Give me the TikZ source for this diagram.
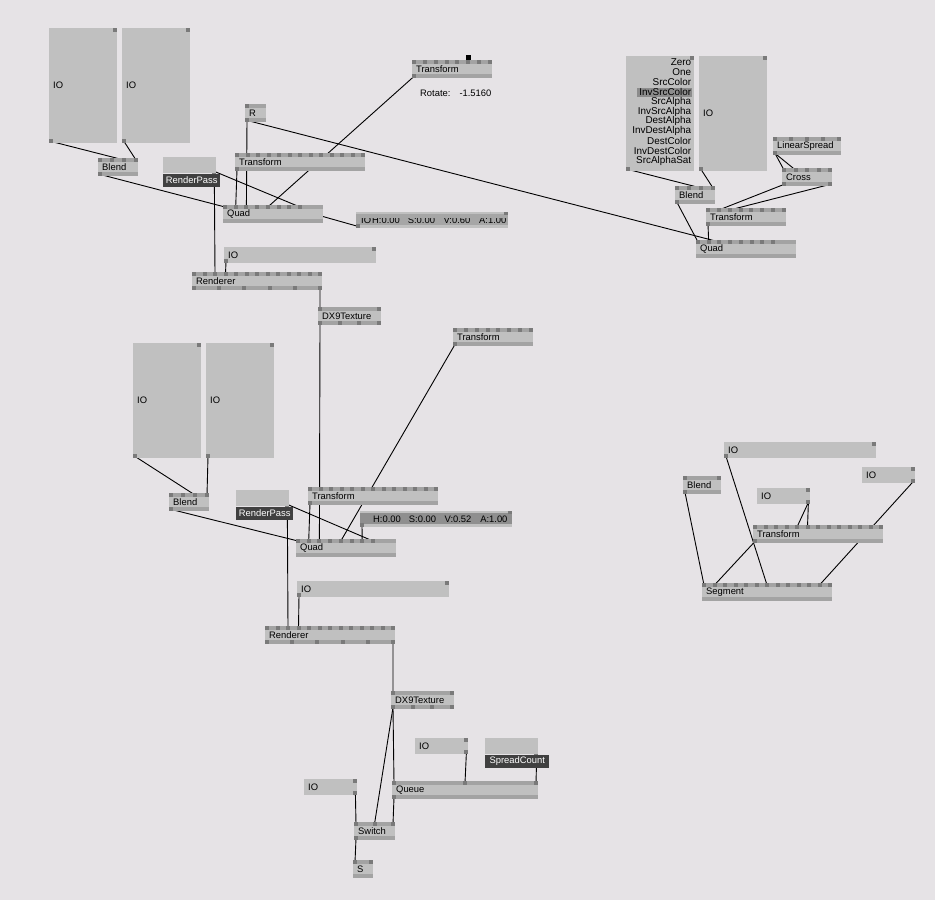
\documentclass[tikz,border=0pt]{standalone}
\usepackage{fontspec}
\setmainfont{Liberation Sans}
\definecolor{patchbg}{HTML}{E6E3E6}
\definecolor{nodebody}{HTML}{C0C0C0}
\definecolor{nodestrip}{HTML}{A3A3A3}
\definecolor{nodepin}{HTML}{7A7A7A}
\definecolor{tagdark}{HTML}{404040}
\definecolor{valband}{HTML}{8F8F8F}
\definecolor{valbandlight}{HTML}{A6A6A6}
\definecolor{enumsel}{HTML}{8C8C8C}
\pgfdeclarelayer{background}
\pgfsetlayers{background,main}
\tikzset{
  patchfont/.style={font=\fontsize{9.4}{11}\selectfont},
  vnode/.style={patchfont,fill=nodebody,anchor=north west,inner xsep=4pt,inner ysep=0pt,minimum height=18pt,align=left},
  iobox/.style={patchfont,fill=nodebody,anchor=north west,inner xsep=4pt,inner ysep=0pt,align=left},
  vstrip/.style={fill=nodestrip},
  vpin/.style={fill=nodepin},
  vtag/.style={patchfont,fill=tagdark,text=white,anchor=north west,inner sep=0pt,minimum height=13pt},
  vtext/.style={patchfont,inner sep=0pt},
  link/.style={draw=black,line width=0.9pt}
}
% name, x, y, width, label, inputs, input spacing, outputs, output spacing
\newcommand{\vnode}[9]{\pgfmathsetmacro{\vtw}{#4-8}\node[vnode,text width=\vtw pt] (#1) at (#2,#3) {#5};
  \fill[vstrip] (#1.north west) rectangle ([yshift=-4pt]#1.north east); \fill[vstrip] (#1.south west) rectangle ([yshift=4pt]#1.south east);
  \ifnum#6>0 \foreach \i in {1,...,#6}{\fill[vpin] ([xshift={(\i-1)*#7}]#1.north west) rectangle ++(4,4); \coordinate (#1-i\i) at ([xshift={(\i-1)*#7+2},yshift=-2pt]#1.north west);}\fi
  \ifnum#8>0 \foreach \i in {1,...,#8}{\fill[vpin] ([xshift={(\i-1)*#9}]#1.south west) rectangle ++(4,-4); \coordinate (#1-o\i) at ([xshift={(\i-1)*#9+2},yshift=2pt]#1.south west);}\fi}
% name, x, y, width, height, label, output side (l/r)
\newcommand{\iobox}[7]{\pgfmathsetmacro{\vtw}{#4-8}\node[iobox,text width=\vtw pt,minimum height=#5pt] (#1) at (#2,#3) {#6};
  \fill[vpin] ([xshift=-4pt]#1.north east) rectangle ++(4,4);
  \if#7l\fill[vpin] (#1.south west) rectangle ++(4,-4); \coordinate (#1-o) at ([xshift=2pt,yshift=2pt]#1.south west);
  \else\fill[vpin] ([xshift=-4pt]#1.south east) rectangle ++(4,-4); \coordinate (#1-o) at ([xshift=-2pt,yshift=2pt]#1.south east);\fi}
% name, x, y, width, label, label width
\newcommand{\ionamed}[6]{\node[iobox,minimum width=#4pt,minimum height=16pt] (#1) at (#2,#3) {};
  \fill[vpin] ([xshift=-4pt]#1.south east) rectangle ++(4,4);
  \node[vtag,minimum width=#6pt] (#1-tag) at (#1.south west) {#5};
  \coordinate (#1-o) at ([xshift=-2pt,yshift=2pt]#1.south east); \coordinate (#1-t) at ([xshift=-2pt]#1.south east |- #1-tag.south);}
% name, x, y, width, band colour, value text
\newcommand{\colourbox}[6]{\node[iobox,minimum width=#4pt,minimum height=16pt] (#1) at (#2,#3) {};
  \fill[#5] ([yshift=-2pt]#1.north west) rectangle ([yshift=3pt]#1.south east);
  \fill[vpin] ([xshift=-4pt]#1.north east) rectangle ++(4,3); \fill[vpin] (#1.south west) rectangle ++(4,-4);
  \coordinate (#1-o) at ([xshift=2pt,yshift=2pt]#1.south west);
  \node[vtext,anchor=west] (#1-val) at ([xshift=13pt]#1.west) {#6};}
\newcommand{\hsv}[4]{\makebox[35.7pt][l]{H:#1}\makebox[35.7pt][l]{S:#2}\makebox[35.7pt][l]{V:#3}A:#4}

\begin{document}
\begin{tikzpicture}[x=1pt,y=-1pt]
\useasboundingbox (0,0) rectangle (935,900);
\begin{pgfonlayer}{background}\fill[patchbg] (0,0) rectangle (935,900);\end{pgfonlayer}
% first layer
\iobox{ioA}{49}{28}{68}{115}{IO}{l} \iobox{ioB}{122}{28}{68}{115}{IO}{l}
\vnode{blendA}{98}{158}{40}{Blend}{4}{12}{1}{0}
\ionamed{passA}{163}{157}{53}{RenderPass}{57}
\vnode{rA}{245}{104}{21}{R}{1}{0}{1}{0}
\vnode{transformA}{235}{153}{130}{Transform}{13}{10.5}{1}{0}
\vnode{quadA}{223}{205}{100}{Quad}{8}{10.7}{0}{0}
\colourbox{hsvA}{356}{212}{152}{valbandlight}{}
\begin{scope}\clip (356,218.5) rectangle (508,225);
\node[vtext,anchor=base west] (hsvA-text) at (361,223.5) {IO\hspace{1pt}\hsv{0.00}{0.00}{0.60}{1.00}};
\end{scope}
\iobox{ioC}{224}{247}{152}{16}{IO}{l}
\vnode{rendererA}{192}{272}{130}{Renderer}{13}{10.5}{6}{25.2}
\vnode{texA}{318}{307}{63}{DX9Texture}{2}{59}{4}{19.67}
\vnode{transformB}{412}{60}{80}{Transform}{8}{10.86}{1}{0}
\fill[black] ([xshift=54pt]transformB.north west) rectangle ++(5,-5);
\node[vtext,anchor=west] (rotA) at (420,93) {Rotate:\hspace{9pt}-1.5160};
% blend state layer
\node[iobox,minimum width=68pt,minimum height=115pt] (enumA) at (626,56) {};
\fill[enumsel] ([xshift=-57pt,yshift=-32pt]enumA.north east) rectangle ([xshift=-2pt,yshift=-41pt]enumA.north east);
\foreach \t [count=\k] in {Zero,One,SrcColor,InvSrcColor,SrcAlpha,InvSrcAlpha,DestAlpha,InvDestAlpha,DestColor,InvDestColor,SrcAlphaSat}
  \node[vtext,anchor=east,font=\fontsize{9.9}{11}\selectfont] (enumA-\k) at ([xshift=-3pt,yshift={-(6+(\k-1)*9.9)}]enumA.north east) {\t};
\fill[vpin] ([xshift=-4pt]enumA.north east) rectangle ++(4,4); \fill[vpin] (enumA.south west) rectangle ++(4,-4);
\coordinate (enumA-o) at ([xshift=2pt,yshift=2pt]enumA.south west);
\iobox{ioD}{699}{56}{68}{115}{IO}{l}
\vnode{spreadA}{773}{137}{68}{LinearSpread}{5}{16}{1}{0}
\vnode{crossA}{782}{168}{50}{Cross}{5}{11.5}{2}{46}
\vnode{blendB}{675}{186}{40}{Blend}{4}{12}{1}{0}
\vnode{transformC}{706}{208}{80}{Transform}{8}{10.86}{1}{0}
\vnode{quadB}{696}{240}{100}{Quad}{8}{10.7}{0}{0}
% second layer
\iobox{ioE}{133}{343}{68}{115}{IO}{l} \iobox{ioF}{206}{343}{68}{115}{IO}{l}
\vnode{blendC}{169}{493}{40}{Blend}{4}{12}{1}{0}
\ionamed{passB}{236}{490}{53}{RenderPass}{57}
\vnode{transformD}{308}{487}{130}{Transform}{13}{10.5}{1}{0}
\colourbox{hsvB}{360}{511}{152}{valband}{\hsv{0.00}{0.00}{0.52}{1.00}}
\vnode{quadC}{296}{539}{100}{Quad}{8}{10.7}{0}{0}
\iobox{ioG}{297}{581}{152}{16}{IO}{l}
\vnode{rendererB}{265}{626}{130}{Renderer}{13}{10.5}{6}{25.2}
\vnode{transformE}{453}{328}{80}{Transform}{8}{10.86}{1}{0}
\vnode{texB}{391}{691}{63}{DX9Texture}{2}{59}{4}{19.67}
\iobox{ioH}{415}{738}{53}{16}{IO}{r}
\ionamed{countA}{485}{738}{53}{SpreadCount}{64}
\vnode{queueA}{392}{781}{146}{Queue}{3}{71}{1}{0}
\iobox{ioI}{304}{779}{53}{16}{IO}{r}
\vnode{switchA}{354}{822}{41}{Switch}{3}{18.5}{1}{0}
\vnode{sA}{353}{860}{20}{S}{2}{16}{0}{0}
% segment
\iobox{ioJ}{724}{442}{152}{16}{IO}{l}
\vnode{blendD}{683}{476}{38}{Blend}{2}{34}{1}{0}
\iobox{ioK}{862}{467}{53}{16}{IO}{r}
\iobox{ioL}{757}{488}{53}{16}{IO}{r}
\vnode{transformF}{753}{525}{130}{Transform}{13}{10.5}{1}{0}
\vnode{segmentA}{702}{583}{130}{Segment}{13}{10.5}{0}{0}
\begin{pgfonlayer}{background}
\draw[link] (ioA-o) -- (blendA-i3); \draw[link] (ioB-o) -- (blendA-i4); \draw[link] (blendA-o1) -- (quadA-i1);
\draw[link] (passA-o) -- (quadA-i8); \draw[link] (passA-t) -- (rendererA-i3);
\draw[link] (rA-o1) -- (quadA-i3); \draw[link] (rA-o1) -- (quadB-i3);
\draw[link] (transformB-o1) -- (quadA-i5); \draw[link] (transformA-o1) -- (quadA-i2); \draw[link] (hsvA-o) -- (quadA-i7);
\draw[link] (ioC-o) -- (rendererA-i4); \draw[link] (rendererA-o6) -- (texA-i1); \draw[link] (texA-o1) -- (quadC-i3);
\draw[link] (enumA-o) -- (blendB-i3); \draw[link] (ioD-o) -- (blendB-i4); \draw[link] (blendB-o1) -- (quadB-i1);
\draw[link] (transformC-o1) -- (quadB-i2); \draw[link] (spreadA-o1) -- (crossA-i1); \draw[link] (spreadA-o1) -- (crossA-i2);
\draw[link] (crossA-o1) -- (transformC-i2); \draw[link] (crossA-o2) -- (transformC-i3);
\draw[link] (ioE-o) -- (blendC-i3); \draw[link] (ioF-o) -- (blendC-i4); \draw[link] (blendC-o1) -- (quadC-i1);
\draw[link] (passB-o) -- (quadC-i8); \draw[link] (passB-t) -- (rendererB-i3);
\draw[link] (transformD-o1) -- (quadC-i2); \draw[link] (transformE-o1) -- (quadC-i5); \draw[link] (hsvB-o) -- (quadC-i7);
\draw[link] (ioG-o) -- (rendererB-i4); \draw[link] (rendererB-o6) -- (texB-i1);
\draw[link] (texB-o1) -- (queueA-i1); \draw[link] (texB-o1) -- (switchA-i2); \draw[link] (ioH-o) -- (queueA-i2);
\draw[link] (countA-t) -- (queueA-i3); \draw[link] (queueA-o1) -- (switchA-i3); \draw[link] (ioI-o) -- (switchA-i1);
\draw[link] (switchA-o1) -- (sA-i1);
\draw[link] (ioJ-o) -- (segmentA-i7); \draw[link] (blendD-o1) -- (segmentA-i1); \draw[link] (ioL-o) -- (transformF-i5);
\draw[link] (ioL-o) -- (transformF-i6); \draw[link] (ioK-o) -- (segmentA-i12); \draw[link] (transformF-o1) -- (segmentA-i2);
\end{pgfonlayer}
\end{tikzpicture}
\end{document}
